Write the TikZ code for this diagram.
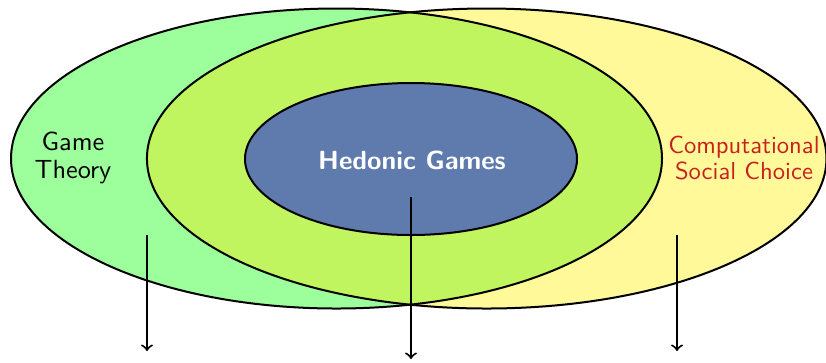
\documentclass[tikz,border=0pt]{standalone}
\usetikzlibrary{shapes.geometric}
\definecolor{gtgreen}{HTML}{9CFF9C}
\definecolor{scyellow}{HTML}{FFF99A}
\definecolor{overlap}{HTML}{C1F55F}
\definecolor{hgblue}{HTML}{5F7BAD}
\definecolor{scred}{HTML}{C8201E}
\tikzset{
  outline/.style={draw=black, line width=0.8pt},
  lbl/.style={font=\sffamily\fontsize{10.5}{11.2}\selectfont, align=center, inner sep=0pt},
  arr/.style={->, line width=0.8pt},
}
\begin{document}
\begin{tikzpicture}[x=0.4pt,y=-0.4pt]
\useasboundingbox (0,0) rectangle (826,362);
% fills
\fill[gtgreen] (336.5,158.5) ellipse [x radius=130.2pt, y radius=60pt];
\fill[scyellow] (486.7,158.5) ellipse [x radius=135.9pt, y radius=60pt];
\begin{scope}
  \clip (336.5,158.5) ellipse [x radius=130.2pt, y radius=60pt];
  \fill[overlap] (486.7,158.5) ellipse [x radius=135.9pt, y radius=60pt];
\end{scope}
% outlines as named nodes
\node[ellipse, outline, minimum width=260.4pt, minimum height=120pt, inner sep=0pt] (gt) at (336.5,158.5) {};
\node[ellipse, outline, minimum width=271.8pt, minimum height=120pt, inner sep=0pt] (sc) at (486.7,158.5) {};
\node[ellipse, outline, fill=hgblue, minimum width=132.8pt, minimum height=60.8pt, inner sep=0pt] (hg) at (411,159) {};
% labels
\node[lbl] (gtl) at (73,158) {Game\\Theory};
\node[lbl, text=scred, font=\sffamily\fontsize{9.85}{10.4}\selectfont] (scl) at (744,158) {Computational\\Social Choice};
\node[lbl, text=white, font=\sffamily\bfseries\fontsize{10.5}{11.2}\selectfont] (hgl) at (412,160) {Hedonic Games};
% arrows
\coordinate (a1s) at (147,235); \coordinate (a1e) at (147,351);
\coordinate (a2s) at (411,197); \coordinate (a2e) at (411,359);
\coordinate (a3s) at (677,235); \coordinate (a3e) at (677,351);
\draw[arr] (a1s) -- (a1e);
\draw[arr] (a2s) -- (a2e);
\draw[arr] (a3s) -- (a3e);
\end{tikzpicture}
\end{document}
